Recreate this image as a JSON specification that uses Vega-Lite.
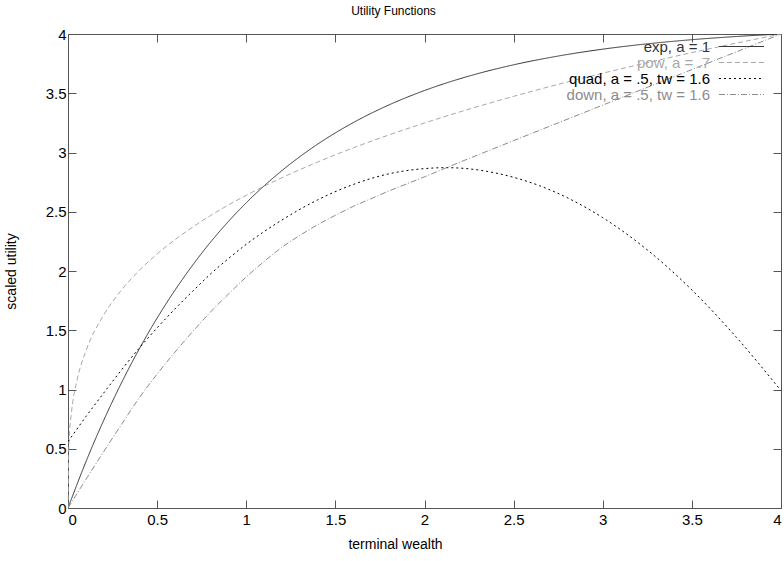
{
  "$schema": "https://vega.github.io/schema/vega-lite/v6.json",
  "autosize": "none",
  "width": 713,
  "height": 474,
  "padding": {"left": 68, "top": 34, "right": 3, "bottom": 53},
  "background": "white",
  "title": {"text": "Utility Functions", "fontSize": 12, "fontWeight": "normal", "font": "Liberation Sans", "color": "black", "anchor": "middle", "dx": -31, "offset": 9},
  "config": {
    "font": "Liberation Sans",
    "view": {"stroke": "#555555", "strokeWidth": 1},
    "axis": {"domain": false, "grid": false, "tickColor": "#555555", "tickSize": -8, "tickWidth": 1, "labelFont": "Liberation Sans", "labelFontSize": 15, "labelColor": "black", "titleFont": "Liberation Sans", "titleFontSize": 14, "titleFontWeight": "normal", "titleColor": "black"}
  },
  "data": {"values": [
    {"series": "exp, a = 1", "w": 0, "u": 0},
    {"series": "exp, a = 1", "w": 0.1, "u": 0.388},
    {"series": "exp, a = 1", "w": 0.2, "u": 0.739},
    {"series": "exp, a = 1", "w": 0.3, "u": 1.056},
    {"series": "exp, a = 1", "w": 0.4, "u": 1.343},
    {"series": "exp, a = 1", "w": 0.5, "u": 1.603},
    {"series": "exp, a = 1", "w": 0.6, "u": 1.838},
    {"series": "exp, a = 1", "w": 0.7, "u": 2.051},
    {"series": "exp, a = 1", "w": 0.8, "u": 2.244},
    {"series": "exp, a = 1", "w": 0.9, "u": 2.418},
    {"series": "exp, a = 1", "w": 1.0, "u": 2.576},
    {"series": "exp, a = 1", "w": 1.2, "u": 2.847},
    {"series": "exp, a = 1", "w": 1.4, "u": 3.07},
    {"series": "exp, a = 1", "w": 1.6, "u": 3.252},
    {"series": "exp, a = 1", "w": 1.8, "u": 3.401},
    {"series": "exp, a = 1", "w": 2.0, "u": 3.523},
    {"series": "exp, a = 1", "w": 2.25, "u": 3.645},
    {"series": "exp, a = 1", "w": 2.5, "u": 3.74},
    {"series": "exp, a = 1", "w": 2.75, "u": 3.814},
    {"series": "exp, a = 1", "w": 3.0, "u": 3.872},
    {"series": "exp, a = 1", "w": 3.25, "u": 3.917},
    {"series": "exp, a = 1", "w": 3.5, "u": 3.952},
    {"series": "exp, a = 1", "w": 3.75, "u": 3.979},
    {"series": "exp, a = 1", "w": 4.0, "u": 4.0},
    {"series": "pow, a = .7", "w": 0, "u": 0},
    {"series": "pow, a = .7", "w": 0.005, "u": 0.538},
    {"series": "pow, a = .7", "w": 0.01, "u": 0.663},
    {"series": "pow, a = .7", "w": 0.02, "u": 0.816},
    {"series": "pow, a = .7", "w": 0.05, "u": 1.074},
    {"series": "pow, a = .7", "w": 0.1, "u": 1.323},
    {"series": "pow, a = .7", "w": 0.2, "u": 1.628},
    {"series": "pow, a = .7", "w": 0.3, "u": 1.839},
    {"series": "pow, a = .7", "w": 0.4, "u": 2.005},
    {"series": "pow, a = .7", "w": 0.5, "u": 2.144},
    {"series": "pow, a = .7", "w": 0.6, "u": 2.264},
    {"series": "pow, a = .7", "w": 0.7, "u": 2.371},
    {"series": "pow, a = .7", "w": 0.8, "u": 2.468},
    {"series": "pow, a = .7", "w": 0.9, "u": 2.557},
    {"series": "pow, a = .7", "w": 1.0, "u": 2.639},
    {"series": "pow, a = .7", "w": 1.2, "u": 2.787},
    {"series": "pow, a = .7", "w": 1.4, "u": 2.919},
    {"series": "pow, a = .7", "w": 1.6, "u": 3.039},
    {"series": "pow, a = .7", "w": 1.8, "u": 3.148},
    {"series": "pow, a = .7", "w": 2.0, "u": 3.249},
    {"series": "pow, a = .7", "w": 2.25, "u": 3.366},
    {"series": "pow, a = .7", "w": 2.5, "u": 3.474},
    {"series": "pow, a = .7", "w": 2.75, "u": 3.575},
    {"series": "pow, a = .7", "w": 3.0, "u": 3.669},
    {"series": "pow, a = .7", "w": 3.25, "u": 3.758},
    {"series": "pow, a = .7", "w": 3.5, "u": 3.843},
    {"series": "pow, a = .7", "w": 3.75, "u": 3.923},
    {"series": "pow, a = .7", "w": 4.0, "u": 4.0},
    {"series": "quad, a = .5, tw = 1.6", "w": 0, "u": 0.56},
    {"series": "quad, a = .5, tw = 1.6", "w": 0.1, "u": 0.77},
    {"series": "quad, a = .5, tw = 1.6", "w": 0.2, "u": 0.97},
    {"series": "quad, a = .5, tw = 1.6", "w": 0.3, "u": 1.165},
    {"series": "quad, a = .5, tw = 1.6", "w": 0.4, "u": 1.35},
    {"series": "quad, a = .5, tw = 1.6", "w": 0.5, "u": 1.52},
    {"series": "quad, a = .5, tw = 1.6", "w": 0.6, "u": 1.68},
    {"series": "quad, a = .5, tw = 1.6", "w": 0.7, "u": 1.83},
    {"series": "quad, a = .5, tw = 1.6", "w": 0.8, "u": 1.975},
    {"series": "quad, a = .5, tw = 1.6", "w": 0.9, "u": 2.105},
    {"series": "quad, a = .5, tw = 1.6", "w": 1.0, "u": 2.225},
    {"series": "quad, a = .5, tw = 1.6", "w": 1.2, "u": 2.43},
    {"series": "quad, a = .5, tw = 1.6", "w": 1.4, "u": 2.6},
    {"series": "quad, a = .5, tw = 1.6", "w": 1.6, "u": 2.73},
    {"series": "quad, a = .5, tw = 1.6", "w": 1.8, "u": 2.82},
    {"series": "quad, a = .5, tw = 1.6", "w": 2.0, "u": 2.864},
    {"series": "quad, a = .5, tw = 1.6", "w": 2.12, "u": 2.872},
    {"series": "quad, a = .5, tw = 1.6", "w": 2.25, "u": 2.862},
    {"series": "quad, a = .5, tw = 1.6", "w": 2.42, "u": 2.82},
    {"series": "quad, a = .5, tw = 1.6", "w": 2.645, "u": 2.72},
    {"series": "quad, a = .5, tw = 1.6", "w": 3.0, "u": 2.45},
    {"series": "quad, a = .5, tw = 1.6", "w": 3.24, "u": 2.19},
    {"series": "quad, a = .5, tw = 1.6", "w": 3.5, "u": 1.84},
    {"series": "quad, a = .5, tw = 1.6", "w": 3.75, "u": 1.44},
    {"series": "quad, a = .5, tw = 1.6", "w": 4.0, "u": 0.99},
    {"series": "down, a = .5, tw = 1.6", "w": 0, "u": 0},
    {"series": "down, a = .5, tw = 1.6", "w": 0.1, "u": 0.24},
    {"series": "down, a = .5, tw = 1.6", "w": 0.2, "u": 0.475},
    {"series": "down, a = .5, tw = 1.6", "w": 0.3, "u": 0.705},
    {"series": "down, a = .5, tw = 1.6", "w": 0.4, "u": 0.93},
    {"series": "down, a = .5, tw = 1.6", "w": 0.5, "u": 1.13},
    {"series": "down, a = .5, tw = 1.6", "w": 0.6, "u": 1.315},
    {"series": "down, a = .5, tw = 1.6", "w": 0.7, "u": 1.49},
    {"series": "down, a = .5, tw = 1.6", "w": 0.8, "u": 1.655},
    {"series": "down, a = .5, tw = 1.6", "w": 0.9, "u": 1.805},
    {"series": "down, a = .5, tw = 1.6", "w": 1.0, "u": 1.95},
    {"series": "down, a = .5, tw = 1.6", "w": 1.1, "u": 2.08},
    {"series": "down, a = .5, tw = 1.6", "w": 1.2, "u": 2.2},
    {"series": "down, a = .5, tw = 1.6", "w": 1.3, "u": 2.3},
    {"series": "down, a = .5, tw = 1.6", "w": 1.4, "u": 2.39},
    {"series": "down, a = .5, tw = 1.6", "w": 1.5, "u": 2.47},
    {"series": "down, a = .5, tw = 1.6", "w": 1.6, "u": 2.545},
    {"series": "down, a = .5, tw = 1.6", "w": 1.7, "u": 2.61},
    {"series": "down, a = .5, tw = 1.6", "w": 1.8, "u": 2.675},
    {"series": "down, a = .5, tw = 1.6", "w": 1.9, "u": 2.735},
    {"series": "down, a = .5, tw = 1.6", "w": 2.0, "u": 2.795},
    {"series": "down, a = .5, tw = 1.6", "w": 2.12, "u": 2.87},
    {"series": "down, a = .5, tw = 1.6", "w": 2.5, "u": 3.1},
    {"series": "down, a = .5, tw = 1.6", "w": 3.0, "u": 3.4},
    {"series": "down, a = .5, tw = 1.6", "w": 3.5, "u": 3.7},
    {"series": "down, a = .5, tw = 1.6", "w": 4.0, "u": 4.0}
  ]},
  "layer": [
    {
      "mark": {"type": "line", "strokeWidth": 1, "interpolate": "monotone", "clip": true},
      "encoding": {
        "x": {"field": "w", "type": "quantitative", "scale": {"domain": [0, 4], "nice": false, "zero": false},
              "axis": {"orient": "bottom", "title": "terminal wealth", "values": [0, 0.5, 1, 1.5, 2, 2.5, 3, 3.5, 4], "format": "~g", "labelPadding": 12, "titlePadding": 10, "titleX": 327}},
        "y": {"field": "u", "type": "quantitative", "scale": {"domain": [0, 4], "nice": false, "zero": false},
              "axis": {"orient": "left", "title": "scaled utility", "values": [0, 0.5, 1, 1.5, 2, 2.5, 3, 3.5, 4], "format": "~g", "labelPadding": 10, "titlePadding": 27}},
        "color": {"field": "series", "type": "nominal",
                  "scale": {"domain": ["exp, a = 1", "pow, a = .7", "quad, a = .5, tw = 1.6", "down, a = .5, tw = 1.6"], "range": ["#333333", "#a8a8a8", "#000000", "#8c8c8c"]},
                  "legend": {"title": null, "orient": "none", "legendX": 666, "legendY": 5, "padding": 0, "symbolType": "M-4,0H4", "symbolSize": 127, "symbolStrokeWidth": 1, "labelAlign": "right", "labelOffset": -39, "labelFontSize": 15, "labelFont": "Liberation Sans", "rowPadding": 0, "labelLimit": 400,
                             "encode": {"labels": {"update": {"fill": {"scale": "color", "field": "value"}}}}}},
        "strokeDash": {"field": "series", "type": "nominal",
                       "scale": {"domain": ["exp, a = 1", "pow, a = .7", "quad, a = .5, tw = 1.6", "down, a = .5, tw = 1.6"], "range": [[1, 0], [5, 3], [2, 3], [6, 2, 1, 2]]},
                       "legend": {"title": null, "orient": "none", "legendX": 666, "legendY": 5, "padding": 0, "symbolType": "M-4,0H4", "symbolSize": 127, "symbolStrokeWidth": 1, "labelAlign": "right", "labelOffset": -39, "labelFontSize": 15, "labelFont": "Liberation Sans", "rowPadding": 0, "labelLimit": 400,
                                  "encode": {"labels": {"update": {"fill": {"scale": "color", "field": "value"}}}}}}
      }
    },
    {
      "mark": {"type": "point", "opacity": 0},
      "encoding": {
        "x": {"field": "w", "type": "quantitative", "axis": {"orient": "top", "title": null, "labels": false, "values": [0, 0.5, 1, 1.5, 2, 2.5, 3, 3.5, 4]}},
        "y": {"field": "u", "type": "quantitative", "axis": {"orient": "right", "title": null, "labels": false, "values": [0, 0.5, 1, 1.5, 2, 2.5, 3, 3.5, 4]}}
      }
    }
  ],
  "resolve": {"axis": {"x": "independent", "y": "independent"}}
}
